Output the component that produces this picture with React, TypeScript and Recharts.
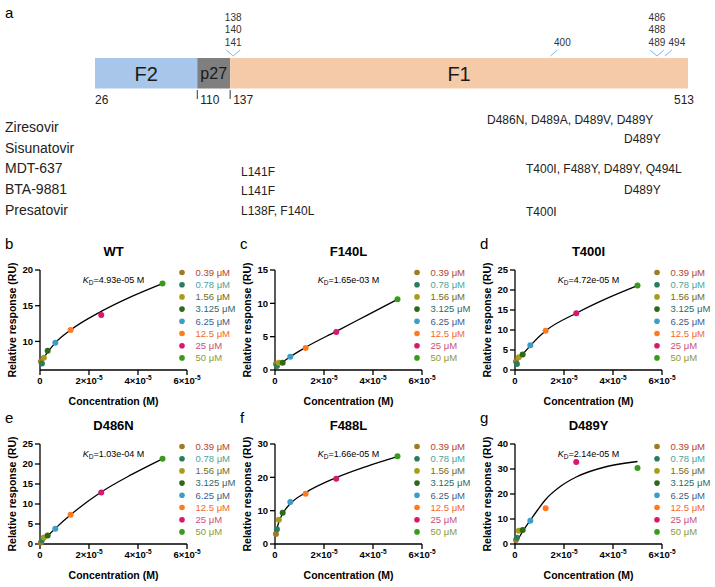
import { ComposedChart, Scatter, Line, Bar, XAxis, YAxis, Cell, Label, ReferenceDot } from 'recharts';

const FONT = "'Liberation Sans', Arial, Helvetica, sans-serif";

// F protein domain map (residue numbers)
const domainNames = ['F2', 'p27', 'F1'];
const domainStart = [26, 110, 137];
const domainEnd = [110, 137, 513];
const domainColors = ['#a8c6e9', '#7f7f7f', '#f5caa8'];
const residueTicks = [26, 110, 137, 513];

// resistance sites flagged above the bar
const siteResidues = [139.5, 400, 487.5, 494];
const siteLabels = [['138', '140', '141'], ['400'], ['486', '488', '489'], ['494']];

// inhibitors and the escape mutations reported for each
const drugs = ['Ziresovir', 'Sisunatovir', 'MDT-637', 'BTA-9881', 'Presatovir'];
const peptideMutations = ['', '', 'L141F', 'L141F', 'L138F, F140L'];
const headMutations = ['D486N, D489A, D489V, D489Y', 'D489Y', 'T400I, F488Y, D489Y, Q494L', 'D489Y', 'T400I'];

// SPR analyte series
const concUM = [0.39, 0.78, 1.56, 3.125, 6.25, 12.5, 25, 50];
const concLabels = ['0.39 μM', '0.78 μM', '1.56 μM', '3.125 μM', '6.25 μM', '12.5 μM', '25 μM', '50 μM'];
const dotColors = ['#a07a26', '#2a7c5c', '#a89c18', '#2d6a18', '#3c9dc6', '#ff7a1e', '#d8176e', '#3a9a1c'];
const labelColors = ['#b4442c', '#4aa59a', '#6e6c1c', '#2f6a6c', '#3f5d8c', '#f06a2a', '#c9507c', '#8a9a3a'];
const xTicks = [0, 2e-5, 4e-5, 6e-5];

const panelLetters = ['b', 'c', 'd', 'e', 'f', 'g'];
const panelTitles = ['WT', 'F140L', 'T400I', 'D486N', 'F488L', 'D489Y'];
const kdValues = ['4.93e-05', '1.65e-03', '4.72e-05', '1.03e-04', '1.66e-05', '2.14e-05'];

// equilibrium responses (RU)
const wtResp = [7.2, 6.9, 7.7, 8.7, 9.8, 11.6, 13.7, 18.1];
const f140lResp = [0.9, 0.6, 1.1, 1.1, 2.0, 3.3, 5.7, 10.6];
const t400iResp = [2.1, 1.5, 3.2, 3.9, 6.2, 9.8, 14.2, 21.1];
const d486nResp = [0.4, 1.0, 1.6, 2.1, 3.8, 7.3, 12.9, 21.3];
const f488lResp = [3.0, 4.4, 7.3, 9.4, 12.6, 15.1, 19.6, 26.3];
const d489yResp = [1.6, 2.5, 5.3, 5.6, 9.3, 14.3, 32.8, 30.4];

// fitted binding curves, sampled at these concentrations (μM)
const fitConcUM = [0.39, 3.125, 6.25, 12.5, 25, 37.5, 50];
const wtFit = [7.1, 8.5, 9.8, 11.6, 14.2, 16.3, 18.1];
const f140lFit = [0.4, 1.2, 2.0, 3.4, 5.8, 8.2, 10.6];
const t400iFit = [1.9, 3.9, 6.1, 9.8, 14.2, 17.9, 21.1];
const d486nFit = [0.3, 2.0, 3.9, 7.3, 13.0, 17.4, 21.3];
const f488lFitConc = [0.39, 0.78, 1.56, 3.125, 6.25, 12.5, 25, 37.5, 50];
const f488lFit = [3.2, 4.5, 6.6, 9.1, 12.1, 15.4, 19.9, 23.3, 26.2];
const d489yFitConc = [0.78, 3.125, 6.25, 9.375, 12.5, 18.75, 25, 37.5, 50];
const d489yFit = [1.0, 5.0, 9.5, 13.8, 17.8, 23.2, 26.8, 31.0, 33.0];

const yDomains = [[6, 20], [0, 15], [0, 25], [0, 25], [0, 30], [0, 40]];
const yTickSets = [[10, 15, 20], [0, 5, 10, 15], [0, 5, 10, 15, 20, 25], [0, 5, 10, 15, 20, 25], [0, 10, 20, 30], [0, 10, 20, 30, 40]];

const respSets = [wtResp, f140lResp, t400iResp, d486nResp, f488lResp, d489yResp];
const fitConcSets = [fitConcUM, fitConcUM, fitConcUM, fitConcUM, f488lFitConc, d489yFitConc];
const fitSets = [wtFit, f140lFit, t400iFit, d486nFit, f488lFit, d489yFit];

const COL_LEFT = [40, 275, 515];
const ROW_TOP = [270, 444];
const PLOT_W = 147;
const PLOT_H = 100;
const BAR_H = 34;

const toM = (um: number) => um * 1e-6;
const axisStroke = { stroke: '#000', strokeWidth: 1.3 };

const renderExpTick = (props: any) => {
  const { x, y, payload } = props;
  const m = Math.round(payload.value / 1e-5);
  return (
    <text x={x} y={y} dy="0.75em" textAnchor="middle" fontSize={9.5} fontWeight={700} fill="#000">
      {m === 0 ? '0' : (
        <>
          <tspan>{m}×10</tspan>
          <tspan dy={-4} fontSize={6.5}>-5</tspan>
        </>
      )}
    </text>
  );
};

const XTitle = (props: any) => {
  const vb = props.viewBox;
  return (
    <text x={vb.x + vb.width / 2} y={vb.y + 34.5} textAnchor="middle" fontSize={10.5} fontWeight={700} fill="#000">
      Concentration (M)
    </text>
  );
};

const YTitle = (props: any) => {
  const vb = props.viewBox;
  const x = vb.x + 15.8;
  const y = vb.y + vb.height / 2;
  return (
    <text x={x} y={y} transform={`rotate(-90 ${x} ${y})`} textAnchor="middle" fontSize={10.5} fontWeight={700} fill="#000">
      Relative response (RU)
    </text>
  );
};

const dotShape = (p: any) => <circle cx={p.cx} cy={p.cy} r={3} fill={p.fill} />;

function BindingPanel({ idx }: { idx: number }) {
  const left = COL_LEFT[idx % 3];
  const top = ROW_TOP[Math.floor(idx / 3)];
  const points = concUM.map((c, i) => ({ x: toM(c), y: respSets[idx][i] }));
  const curve = fitConcSets[idx].map((c, i) => ({ x: toM(c), y: fitSets[idx][i] }));
  return (
    <div style={{ position: 'absolute', left: left - 40, top: top - 10 }}>
      <ComposedChart width={40 + PLOT_W + 28} height={10 + PLOT_H + 40} margin={{ top: 10, right: 28, bottom: 0, left: 0 }}>
        <XAxis
          type="number"
          dataKey="x"
          domain={[0, 6e-5]}
          ticks={xTicks}
          interval={0}
          height={40}
          tickSize={5}
          axisLine={axisStroke}
          tickLine={axisStroke}
          tick={renderExpTick}
        >
          <Label content={XTitle} />
        </XAxis>
        <YAxis
          type="number"
          dataKey="y"
          domain={yDomains[idx]}
          ticks={yTickSets[idx]}
          interval={0}
          width={40}
          tickSize={5}
          axisLine={axisStroke}
          tickLine={axisStroke}
          tick={{ fontSize: 9.5, fontWeight: 700, fill: '#000' }}
        >
          <Label content={YTitle} />
        </YAxis>
        <Line data={curve} dataKey="y" type="monotone" stroke="#000" strokeWidth={1.3} dot={false} isAnimationActive={false} />
        <Scatter data={points} dataKey="y" shape={dotShape} isAnimationActive={false}>
          {points.map((_, i) => (
            <Cell key={i} fill={dotColors[i]} />
          ))}
        </Scatter>
      </ComposedChart>
    </div>
  );
}

const SiteMarker = (props: any) => {
  const { cx, cy, labels } = props;
  const barTop = cy - BAR_H / 2;
  const grouped = labels.length > 1;
  const lx = grouped ? cx : cx + 12;
  return (
    <g>
      {grouped ? (
        <path d={`M${cx - 7},${barTop - 6}L${cx},${barTop}L${cx + 7},${barTop - 6}`} fill="none" stroke="#86b4e2" strokeWidth={1} />
      ) : (
        <line x1={cx} y1={barTop} x2={cx + 7} y2={barTop - 6} stroke="#86b4e2" strokeWidth={1} />
      )}
      {labels.map((t: string, k: number) => (
        <text key={t} x={lx} y={barTop - 10 - (labels.length - 1 - k) * 12.7} textAnchor="middle" fontSize={10} fill="#333">
          {t}
        </text>
      ))}
    </g>
  );
};

const renderResidueTick = (props: any) => {
  const { x, y, payload } = props;
  const v = payload.value;
  const inner = v !== 26 && v !== 513;
  return (
    <g>
      {inner && <line x1={x} x2={x} y1={y} y2={y + 9} stroke="#333" strokeWidth={1} />}
      <text x={v === 513 ? x - 14 : x + (inner ? 3 : 0)} y={y + 13.6} fontSize={12} fill="#222">
        {v}
      </text>
    </g>
  );
};

const domainLabel = (name: string, size: number) => (p: any) => (
  <text x={p.x + p.width / 2} y={p.y + p.height / 2} dy="0.36em" textAnchor="middle" fontSize={size} fill="#1a1a1a">
    {name}
  </text>
);

// one stacked row: a hidden lead-in up to the first residue, then each domain's length
const domainRow: Record<string, any> = { name: 'F', lead: domainStart[0] };
domainNames.forEach((n, i) => {
  domainRow[n] = domainEnd[i] - domainStart[i];
});

function DomainMap() {
  return (
    <div style={{ position: 'absolute', left: 0, top: 0 }}>
      <ComposedChart
        layout="vertical"
        width={715}
        height={110}
        data={[domainRow]}
        margin={{ top: 56, right: 27, bottom: 0, left: 95 }}
        barCategoryGap={0}
      >
        <XAxis
          type="number"
          domain={[26, 513]}
          ticks={residueTicks}
          interval={0}
          height={20}
          axisLine={false}
          tickLine={false}
          tickSize={0}
          tickMargin={0}
          tick={renderResidueTick}
          allowDataOverflow
        />
        <YAxis type="category" dataKey="name" hide />
        <Bar dataKey="lead" stackId="f" fill="transparent" barSize={BAR_H} isAnimationActive={false} />
        {domainNames.map((n, i) => (
          <Bar
            key={n}
            dataKey={n}
            stackId="f"
            fill={domainColors[i]}
            barSize={BAR_H}
            isAnimationActive={false}
            label={domainLabel(n, i === 1 ? 16 : 20)}
          />
        ))}
        {siteResidues.map((r, i) => (
          <ReferenceDot
            key={r}
            x={r}
            y="F"
            r={0}
            ifOverflow="visible"
            shape={(p: any) => <SiteMarker {...p} labels={siteLabels[i]} />}
          />
        ))}
      </ComposedChart>
    </div>
  );
}

const headX = [487, 624, 526, 624, 526];
const headBase = [123.8, 143.3, 172.8, 193.8, 216.3];
const peptideBase = [0, 0, 175.8, 195.3, 215.3];

function Annotations() {
  return (
    <svg width={715} height={587} style={{ position: 'absolute', left: 0, top: 0, pointerEvents: 'none' }}>
      <text x={5} y={18.3} fontSize={15} fill="#000">a</text>
      {drugs.map((d, i) => (
        <g key={d}>
          <text x={5} y={131.7 + i * 20.8} fontSize={14} fill="#222">{d}</text>
          {peptideMutations[i] && (
            <text x={241} y={peptideBase[i]} fontSize={12} fill="#222">{peptideMutations[i]}</text>
          )}
          <text x={headX[i]} y={headBase[i]} fontSize={12} fill="#222">{headMutations[i]}</text>
        </g>
      ))}
      {panelTitles.map((title, idx) => {
        const left = COL_LEFT[idx % 3];
        const top = ROW_TOP[Math.floor(idx / 3)];
        const cx = left + PLOT_W / 2;
        return (
          <g key={title}>
            <text x={left - 35} y={top - 21.5} fontSize={15} fill="#000">{panelLetters[idx]}</text>
            <text x={cx} y={top - 14.5} textAnchor="middle" fontSize={13} fontWeight={700} fill="#000">{title}</text>
            <text x={cx} y={top + 13} textAnchor="middle" fontSize={9} fill="#000">
              <tspan fontStyle="italic">K</tspan>
              <tspan fontSize={6.5} dy={2}>D</tspan>
              <tspan dy={-2}>={kdValues[idx]} M</tspan>
            </text>
            {concLabels.map((lab, i) => (
              <g key={lab}>
                <circle cx={left + 142} cy={top + 2.5 + i * 12.2} r={2.8} fill={dotColors[i]} />
                <text x={left + 155.5} y={top + 5.8 + i * 12.2} fontSize={9.5} fill={labelColors[i]}>{lab}</text>
              </g>
            ))}
          </g>
        );
      })}
    </svg>
  );
}

export default function App() {
  return (
    <div style={{ position: 'absolute', left: 0, top: 0, width: 715, height: 587, background: '#fff', overflow: 'hidden', fontFamily: FONT }}>
      <DomainMap />
      {panelTitles.map((t, idx) => (
        <BindingPanel key={t} idx={idx} />
      ))}
      <Annotations />
    </div>
  );
}
